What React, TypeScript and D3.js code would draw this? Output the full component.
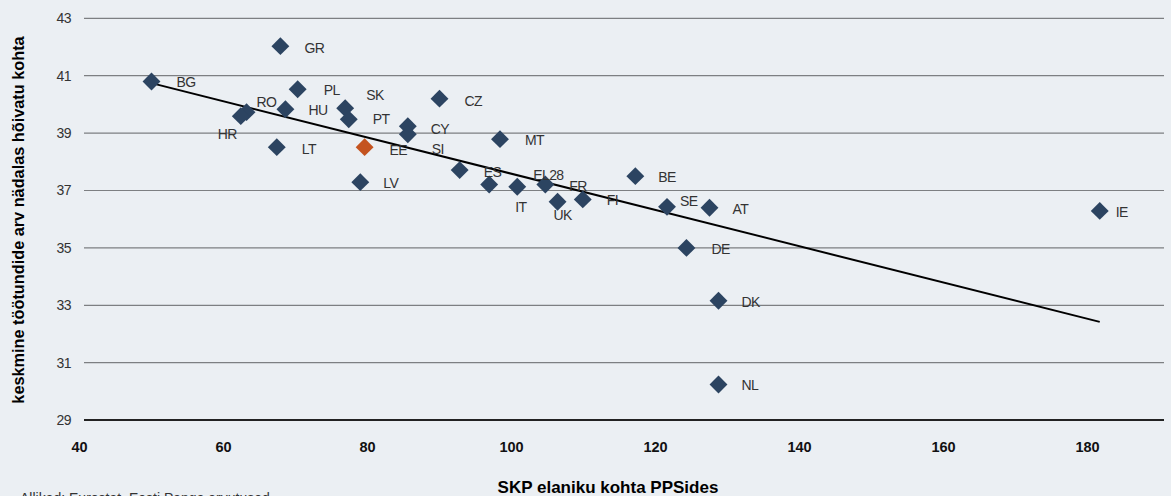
import React from "react";
import * as d3 from "d3";

// ---- data ----
const countries = ["GR","BG","PL","RO","HR","HU","LT","SK","PT","EE","LV","CY","SI","CZ","MT","ES","IT","EL28","FR","UK","FI","BE","SE","AT","DE","DK","NL","IE"];
const gdpPerCapitaPps = [67.9,50.0,70.3,63.2,62.4,68.6,67.4,76.9,77.4,79.6,79.0,85.6,85.6,90.0,98.4,92.8,96.9,100.8,104.7,106.4,109.9,117.2,121.6,127.5,124.3,128.75,128.75,181.7];
const weeklyHours = [42.03,40.8,40.53,39.73,39.59,39.83,38.51,39.87,39.48,38.51,37.29,39.24,38.96,40.2,38.79,37.71,37.21,37.13,37.21,36.61,36.69,37.5,36.43,36.4,35.0,33.16,30.24,36.29];
const highlighted = ["EE"];
const xTicks = [40,60,80,100,120,140,160,180];
const yTicks = [29,31,33,35,37,39,41,43];

const xTitle = "SKP elaniku kohta PPSides";
const yTitle = "keskmine töötundide arv nädalas hõivatu kohta";
const sourceText = "Allikad: Eurostat, Eesti Panga arvutused";

// label placement (layout only, px offsets from the marker)
const labelOffsets: Record<string, [number, number]> = {
  GR:[24,2], BG:[25,1], PL:[26,1], RO:[10,-10], HR:[-23,18], HU:[23,1], LT:[25,2], SK:[21,-13],
  PT:[24,0], EE:[25,3], LV:[23,1], CY:[23,3], SI:[24,15], CZ:[25,2], MT:[25,1], ES:[24,2],
  IT:[26,23], EL28:[16,-12], FR:[24,2], UK:[-4,13], FI:[24,1], BE:[23,1], SE:[13,-6], AT:[23,1],
  DE:[25,1], DK:[23,1], NL:[23,1], IE:[16,1],
};

const W = 1171, H = 496;
const FONT = "'Liberation Sans', Arial, Helvetica, sans-serif";

export default function App() {
  const x = d3.scaleLinear().domain([40, 190]).range([79.5, 1159.5]);
  const y = d3.scaleLinear().domain([29, 43]).range([420.1, 18.3]);
  const gridX0 = x(40) + 4.5, gridX1 = x(190) + 4.5;

  const pts = countries.map((c, i) => ({ c, gx: gdpPerCapitaPps[i], hy: weeklyHours[i] }));

  // least-squares trendline over all points
  const mx = d3.mean(pts, p => p.gx)!;
  const my = d3.mean(pts, p => p.hy)!;
  const sxy = d3.sum(pts, p => (p.gx - mx) * (p.hy - my));
  const sxx = d3.sum(pts, p => (p.gx - mx) ** 2);
  const slope = sxy / sxx;
  const icpt = my - slope * mx;
  const [xmin, xmax] = d3.extent(pts, p => p.gx) as [number, number];
  const trend = d3.line<number>().x(v => x(v)).y(v => y(icpt + slope * v))([xmin, xmax])!;

  const diamond = d3.symbol().type(d3.symbolSquare).size(160)()!;

  return (
    <svg width={W} height={H} style={{ position: "absolute", left: 0, top: 0, display: "block" }} fontFamily={FONT}>
      <rect x={0} y={0} width={W} height={H} fill="#EBEFF3" />
      {yTicks.map(t => (
        <g key={t}>
          <line x1={gridX0} x2={gridX1} y1={y(t)} y2={y(t)} stroke={t === 29 ? "#222" : "#7d7f82"} strokeWidth={t === 29 ? 2 : 1.2} />
          <text x={71} y={y(t)} dy="0.35em" textAnchor="end" fontSize={14} fill="#333" letterSpacing={-0.5}>{t}</text>
        </g>
      ))}
      {xTicks.map(t => (
        <text key={t} x={x(t)} y={447} dy="0.35em" textAnchor="middle" fontSize={14.5} fontWeight="bold" fill="#111">{t}</text>
      ))}
      <path d={trend} fill="none" stroke="#000" strokeWidth={2} />
      {pts.map(p => (
        <path key={p.c} d={diamond} transform={`translate(${x(p.gx)},${y(p.hy)}) rotate(45)`}
          fill={highlighted.includes(p.c) ? "#C4531F" : "#2C4461"} />
      ))}
      {pts.map(p => {
        const [dx, dy] = labelOffsets[p.c] || [24, 1];
        return (
          <text key={"l" + p.c} x={x(p.gx) + dx} y={y(p.hy) + dy} dy="0.35em" fontSize={14} fill="#333" letterSpacing={-0.6}>{p.c}</text>
        );
      })}
      <text transform={`translate(18,220) rotate(-90)`} textAnchor="middle" dy="0.35em" fontSize={16.3} fontWeight="bold" fill="#000">{yTitle}</text>
      <text x={608} y={487} textAnchor="middle" dy="0.35em" fontSize={17} fontWeight="bold" fill="#000">{xTitle}</text>
      <text x={20} y={503} fontSize={14} fill="#333">{sourceText}</text>
    </svg>
  );
}
